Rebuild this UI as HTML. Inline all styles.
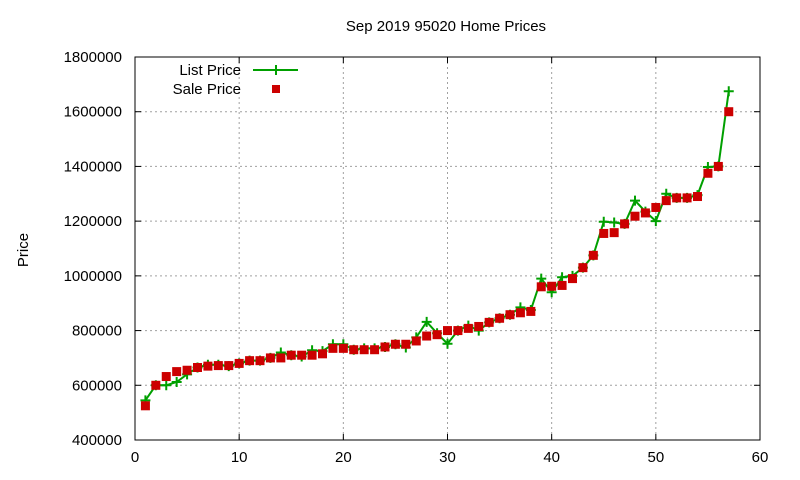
<!DOCTYPE html>
<html><head><meta charset="utf-8"><style>
body{margin:0;background:#fff;}
svg{display:block;font-family:"Liberation Sans",sans-serif;}
</style></head><body>
<svg id="chart" width="800" height="480">
<rect x="0" y="0" width="800" height="480" fill="#fff"/>
<text x="446" y="31" font-size="15" text-anchor="middle">Sep 2019 95020 Home Prices</text>
<text x="28" y="250" font-size="15" text-anchor="middle" transform="rotate(-90 28 250)">Price</text>
<g id="grid"></g>
<g id="axes"></g>
<g id="series"></g>
<g>
<text x="241" y="75" font-size="15" text-anchor="end">List Price</text>
<line x1="253" y1="70" x2="298" y2="70" stroke="#00a000" stroke-width="2"/>
<path d="M271 70h10M276 65v10" stroke="#00a000" stroke-width="2"/>
<text x="241" y="94" font-size="15" text-anchor="end">Sale Price</text>
<rect x="272" y="85" width="8" height="8" fill="#cc0000"/>
</g>
</svg>
<script>
const xIndex = [1,2,3,4,5,6,7,8,9,10,11,12,13,14,15,16,17,18,19,20,21,22,23,24,25,26,27,28,29,30,31,32,33,34,35,36,37,38,39,40,41,42,43,44,45,46,47,48,49,50,51,52,53,54,55,56,57];
const listPrice = [545000,600000,600000,612000,640000,665000,675000,675000,670000,680000,690000,690000,700000,720000,710000,705000,728000,725000,750000,750000,730000,735000,735000,740000,750000,738000,775000,832000,790000,752000,800000,818000,800000,830000,845000,858000,885000,875000,990000,940000,995000,1000000,1030000,1075000,1198000,1195000,1190000,1275000,1235000,1200000,1300000,1285000,1285000,1295000,1398000,1400000,1675000];
const salePrice = [525000,600000,632000,650000,655000,665000,670000,672000,672000,680000,690000,690000,700000,700000,710000,710000,710000,715000,735000,735000,730000,730000,730000,740000,750000,750000,762000,780000,785000,800000,800000,808000,815000,830000,845000,858000,865000,870000,960000,962000,965000,990000,1030000,1075000,1155000,1158000,1190000,1218000,1230000,1250000,1275000,1285000,1285000,1290000,1375000,1400000,1600000];
const xTicks = [0,10,20,30,40,50,60];
const yTicks = [400000,600000,800000,1000000,1200000,1400000,1600000,1800000];

const L=135,R=760,T=57,B=440;
const sx=v=>L+(v-0)/(60-0)*(R-L);
const sy=v=>B-(v-400000)/(1800000-400000)*(B-T);
const NS="http://www.w3.org/2000/svg";
function mk(tag,attrs,parent){const e=document.createElementNS(NS,tag);for(const k in attrs)e.setAttribute(k,attrs[k]);parent.appendChild(e);return e;}
const grid=document.getElementById('grid'),axes=document.getElementById('axes'),ser=document.getElementById('series');

xTicks.forEach(t=>{
  const x=sx(t);
  if(t>0&&t<60){const g=mk('line',{x1:x,y1:T,x2:x,y2:B,stroke:'#a0a0a0','stroke-dasharray':'2,3'},grid);
  
  }
  mk('line',{x1:x,y1:B,x2:x,y2:B-6,stroke:'#000'},axes);
  mk('line',{x1:x,y1:T,x2:x,y2:T+6,stroke:'#000'},axes);
  const tx=mk('text',{x:x,y:B+22,'font-size':15,'text-anchor':'middle'},axes);
  tx.textContent=t;
  
  
});
yTicks.forEach(t=>{
  const y=sy(t);
  if(t>400000&&t<1800000){const g=mk('line',{x1:L,y1:y,x2:R,y2:y,stroke:'#a0a0a0','stroke-dasharray':'2,3'},grid);
  
  }
  mk('line',{x1:L,y1:y,x2:L+6,y2:y,stroke:'#000'},axes);
  mk('line',{x1:R,y1:y,x2:R-6,y2:y,stroke:'#000'},axes);
  const tx=mk('text',{x:L-13,y:y+5,'font-size':15,'text-anchor':'end'},axes);
  tx.textContent=t;
  
  
});
const frame=mk('rect',{x:L,y:T,width:R-L,height:B-T,fill:'none',stroke:'#000'},axes);



const pts=xIndex.map((x,i)=>sx(x)+','+sy(listPrice[i])).join(' ');
const line=mk('polyline',{points:pts,fill:'none',stroke:'#00a000','stroke-width':2},ser);


xIndex.forEach((x,i)=>{
  const cx=sx(x),cy=sy(listPrice[i]);
  const p=mk('path',{d:`M${cx-5} ${cy}h10M${cx} ${cy-5}v10`,stroke:'#00a000','stroke-width':2},ser);
  
  
});
xIndex.forEach((x,i)=>{
  const cx=sx(x),cy=sy(salePrice[i]);
  const r=mk('rect',{x:cx-4.5,y:cy-4.5,width:9,height:9,fill:'#cc0000'},ser);
  
  
});
</script>
</body></html>
